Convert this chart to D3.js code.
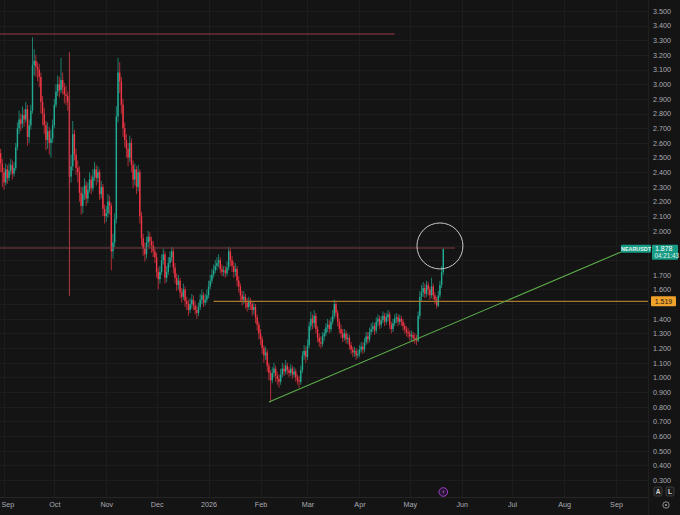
<!DOCTYPE html>
<html><head><meta charset="utf-8">
<script src="https://cdn.jsdelivr.net/npm/d3@7"></script>
<style>html,body{margin:0;padding:0;background:#141414;overflow:hidden}svg{display:block}</style>
</head><body><svg id="c" width="680" height="515"></svg>
<script>
// ---------- DATA (NEARUSDT, daily) ----------
const startDate = "2025-08-29";
const firstOpen = 2.50;
const closes = [
2.53,2.46,2.40,2.33,2.42,2.36,2.41,2.45,2.39,2.43,
2.57,2.70,2.76,2.73,2.79,2.76,2.83,2.64,2.72,2.82,
3.13,3.16,3.12,3.10,3.05,2.88,2.80,2.72,2.62,2.68,
2.60,2.63,2.72,2.86,2.95,3.00,2.96,3.03,2.98,2.93,
2.92,2.88,2.37,2.44,2.66,2.52,2.43,2.40,2.26,2.17,
2.25,2.31,2.22,2.28,2.35,2.29,2.37,2.42,2.36,2.40,
2.25,2.30,2.15,2.10,2.12,2.20,2.17,1.86,1.92,2.08,
2.78,3.08,3.02,2.86,2.70,2.62,2.56,2.50,2.60,2.45,
2.35,2.42,2.30,2.40,2.10,1.95,1.88,1.84,1.92,1.96,
1.93,1.90,1.86,1.82,1.72,1.67,1.72,1.80,1.84,1.68,
1.72,1.78,1.82,1.86,1.75,1.68,1.63,1.66,1.58,1.55,
1.60,1.52,1.50,1.46,1.50,1.53,1.49,1.46,1.44,1.48,
1.53,1.56,1.51,1.53,1.56,1.62,1.66,1.70,1.73,1.76,
1.78,1.80,1.74,1.72,1.73,1.71,1.75,1.86,1.80,1.76,
1.72,1.74,1.66,1.62,1.56,1.53,1.55,1.51,1.48,1.52,
1.50,1.46,1.48,1.41,1.36,1.30,1.26,1.20,1.15,1.17,
1.08,1.03,0.98,1.03,1.06,1.01,0.99,0.97,1.02,1.06,
1.04,1.08,1.05,1.03,1.06,1.02,1.04,1.00,0.98,0.97,
1.05,1.15,1.18,1.14,1.22,1.35,1.40,1.37,1.42,1.33,
1.27,1.24,1.23,1.28,1.30,1.34,1.36,1.33,1.38,1.42,
1.50,1.44,1.38,1.33,1.30,1.27,1.30,1.26,1.27,1.22,
1.19,1.17,1.18,1.15,1.16,1.19,1.21,1.19,1.24,1.28,
1.26,1.31,1.33,1.35,1.32,1.38,1.40,1.36,1.39,1.42,
1.38,1.41,1.43,1.36,1.33,1.37,1.40,1.41,1.38,1.40,
1.38,1.35,1.33,1.31,1.30,1.28,1.29,1.27,1.26,1.25,
1.42,1.55,1.58,1.61,1.57,1.63,1.60,1.56,1.62,1.56,
1.53,1.49,1.56,1.63,1.72,1.878];
const highs = [
2.58,2.56,2.49,2.43,2.46,2.45,2.46,2.49,2.48,2.47,
2.60,2.74,2.82,2.80,2.85,2.83,2.88,2.86,2.76,2.86,
3.32,3.24,3.20,3.15,3.14,3.08,2.92,2.84,2.75,2.74,
2.71,2.69,2.76,2.90,3.00,3.06,3.05,3.18,3.08,3.01,
2.99,2.95,2.90,2.52,2.75,2.69,2.56,2.48,2.44,2.30,
2.30,2.36,2.34,2.33,2.40,2.38,2.42,2.47,2.45,2.44,
2.42,2.34,2.32,2.18,2.17,2.25,2.24,2.19,1.98,2.12,
2.85,3.18,3.15,3.05,2.90,2.74,2.66,2.60,2.65,2.63,
2.48,2.46,2.44,2.45,2.42,2.13,1.98,1.92,1.96,2.00,
1.99,1.96,1.93,1.89,1.85,1.75,1.76,1.84,1.88,1.86,
1.76,1.82,1.86,1.89,1.88,1.78,1.71,1.70,1.68,1.61,
1.64,1.62,1.55,1.53,1.54,1.57,1.56,1.52,1.49,1.51,
1.57,1.60,1.58,1.57,1.60,1.66,1.70,1.74,1.77,1.80,
1.82,1.84,1.82,1.77,1.76,1.76,1.79,1.89,1.88,1.83,
1.79,1.78,1.76,1.69,1.64,1.59,1.59,1.57,1.54,1.55,
1.54,1.52,1.51,1.50,1.43,1.38,1.33,1.28,1.22,1.21,
1.19,1.10,1.05,1.07,1.10,1.08,1.04,1.02,1.06,1.10,
1.09,1.12,1.10,1.07,1.09,1.08,1.07,1.06,1.02,1.01,
1.08,1.18,1.22,1.21,1.26,1.38,1.45,1.43,1.46,1.44,
1.35,1.30,1.28,1.31,1.33,1.37,1.40,1.39,1.41,1.46,
1.53,1.52,1.46,1.40,1.36,1.33,1.33,1.32,1.30,1.29,
1.24,1.21,1.21,1.20,1.19,1.22,1.24,1.24,1.27,1.31,
1.31,1.34,1.37,1.38,1.37,1.41,1.43,1.42,1.42,1.45,
1.44,1.44,1.46,1.45,1.38,1.40,1.43,1.44,1.43,1.43,
1.42,1.40,1.37,1.35,1.34,1.32,1.32,1.31,1.30,1.29,
1.45,1.59,1.63,1.65,1.64,1.66,1.65,1.62,1.68,1.64,
1.58,1.55,1.59,1.66,1.76,1.878];
const lows = [
2.44,2.40,2.30,2.28,2.31,2.32,2.34,2.38,2.35,2.37,
2.41,2.55,2.66,2.68,2.70,2.71,2.74,2.58,2.60,2.69,
2.80,3.06,3.05,3.02,2.98,2.80,2.72,2.66,2.55,2.56,
2.52,2.50,2.60,2.70,2.84,2.92,2.91,2.94,2.93,2.87,
2.86,2.82,2.30,2.33,2.41,2.48,2.38,2.33,2.20,2.11,
2.12,2.21,2.17,2.19,2.26,2.25,2.27,2.34,2.31,2.33,
2.21,2.22,2.10,2.05,2.06,2.09,2.11,1.73,1.81,1.89,
2.05,2.74,2.94,2.80,2.64,2.57,2.50,2.44,2.47,2.40,
2.29,2.31,2.25,2.27,2.05,1.90,1.83,1.79,1.81,1.89,
1.88,1.85,1.82,1.78,1.68,1.60,1.64,1.70,1.77,1.64,
1.65,1.70,1.75,1.79,1.71,1.64,1.59,1.60,1.54,1.51,
1.53,1.48,1.46,1.42,1.44,1.47,1.46,1.43,1.40,1.42,
1.46,1.50,1.48,1.49,1.51,1.54,1.60,1.64,1.68,1.71,
1.73,1.75,1.71,1.69,1.69,1.68,1.69,1.73,1.76,1.72,
1.68,1.69,1.62,1.58,1.52,1.49,1.50,1.47,1.45,1.46,
1.46,1.42,1.43,1.37,1.32,1.26,1.22,1.16,1.10,1.12,
1.04,0.98,0.83,0.96,1.00,0.97,0.95,0.93,0.95,1.00,
1.01,1.02,1.02,1.00,1.01,0.99,1.00,0.97,0.95,0.93,
0.95,1.03,1.12,1.10,1.12,1.20,1.32,1.33,1.34,1.30,
1.24,1.21,1.20,1.21,1.25,1.28,1.31,1.30,1.31,1.36,
1.40,1.41,1.35,1.30,1.27,1.24,1.25,1.23,1.23,1.19,
1.16,1.14,1.14,1.12,1.13,1.14,1.17,1.16,1.17,1.22,
1.23,1.24,1.29,1.31,1.29,1.30,1.35,1.33,1.34,1.37,
1.35,1.36,1.38,1.33,1.30,1.31,1.35,1.37,1.35,1.36,
1.35,1.32,1.30,1.28,1.27,1.25,1.25,1.24,1.23,1.22,
1.24,1.40,1.52,1.55,1.54,1.55,1.56,1.53,1.54,1.53,
1.50,1.47,1.48,1.54,1.61,1.70];

const yTickValues = [3.5,3.4,3.3,3.2,3.1,3.0,2.9,2.8,2.7,2.6,2.5,2.4,2.3,2.2,2.1,2.0,1.7,1.6,1.4,1.3,1.2,1.1,1.0,0.9,0.8,0.7,0.6,0.5,0.4,0.3];
const gridValues = [3.5,3.4,3.3,3.2,3.1,3.0,2.9,2.8,2.7,2.6,2.5,2.4,2.3,2.2,2.1,2.0,1.9,1.8,1.7,1.6,1.5,1.4,1.3,1.2,1.1,1.0,0.9,0.8,0.7,0.6,0.5,0.4,0.3];
const monthTicks = ["2025-09-01","2025-10-01","2025-11-01","2025-12-01","2026-01-01","2026-02-01","2026-03-01","2026-04-01","2026-05-01","2026-06-01","2026-07-01","2026-08-01","2026-09-01"];
const monthLabels = ["Sep","Oct","Nov","Dec","2026","Feb","Mar","Apr","May","Jun","Jul","Aug","Sep"];

// drawings (values / dates only)
const topResistance = {value: 3.343, start: "2025-08-27", end: "2026-04-22"};
const midResistance = {value: 1.883, start: "2025-08-27", end: "2026-05-28"};
const supportLevel  = {value: 1.519, start: "2026-01-04"};
const trendPoints   = [{date: "2026-02-06", value: 0.833}, {date: "2026-09-04", value: 1.856}];
const crashMarker   = {date: "2025-10-10", top: 3.22, bottom: 1.556};
const circleMarker  = {date: "2026-05-19", value: 1.897};
const symbolName = "NEARUSDT";
const lastPrice = 1.878;
const countdown = "04:21:43";

// ---------- CHART ----------
const W = 680, H = 515;
const plotRight = 648, timeAxisY = 497;
const parse = d3.timeParse("%Y-%m-%d");
const x = d3.scaleTime().domain([parse("2025-09-01"), parse("2026-09-01")]).range([4, 616]);
const y = d3.scaleLinear().domain([0.3, 3.5]).range([480, 11]);

const svg = d3.select("#c");
svg.append("rect").attr("width", W).attr("height", H).attr("fill", "#141414");

const plot = svg.append("g");
plot.append("clipPath").attr("id","clip").append("rect").attr("x",0).attr("y",0).attr("width",plotRight).attr("height",timeAxisY);

// grid
const grid = plot.append("g").attr("clip-path","url(#clip)");
grid.selectAll("line.h").data(gridValues).join("line").attr("class","h")
  .attr("x1",0).attr("x2",plotRight).attr("y1",d=>Math.round(y(d))+0.5).attr("y2",d=>Math.round(y(d))+0.5)
  .attr("stroke","#1d1d1d").attr("stroke-width",1);
grid.selectAll("line.v").data(monthTicks.map(parse)).join("line").attr("class","v")
  .attr("y1",0).attr("y2",timeAxisY).attr("x1",d=>Math.round(x(d))+0.5).attr("x2",d=>Math.round(x(d))+0.5)
  .attr("stroke","#1d1d1d").attr("stroke-width",1);

// candles
const start = parse(startDate);
const candles = closes.map((c,i)=>{
  const o = i===0 ? firstOpen : closes[i-1];
  return {date: d3.timeDay.offset(start,i), o, c, h: Math.max(highs[i],o,c), l: Math.min(lows[i],o,c)};
});
const up = "#22ab94", dn = "#f23645";
const cg = plot.append("g").attr("clip-path","url(#clip)");
cg.selectAll("line.w").data(candles).join("line").attr("class","w")
  .attr("x1",d=>x(d.date)).attr("x2",d=>x(d.date))
  .attr("y1",d=>y(d.h)).attr("y2",d=>y(d.l))
  .attr("stroke",d=>d.c>=d.o?up:dn).attr("stroke-width",0.7);
cg.selectAll("rect.b").data(candles).join("rect").attr("class","b")
  .attr("x",d=>x(d.date)-0.7).attr("width",1.4)
  .attr("y",d=>y(Math.max(d.o,d.c)))
  .attr("height",d=>Math.max(0.8, Math.abs(y(d.o)-y(d.c))))
  .attr("fill",d=>d.c>=d.o?up:dn);

// drawings
const dg = plot.append("g").attr("clip-path","url(#clip)");
dg.append("line").attr("x1",x(parse(topResistance.start))).attr("x2",x(parse(topResistance.end)))
  .attr("y1",y(topResistance.value)).attr("y2",y(topResistance.value))
  .attr("stroke","#9b3a44").attr("stroke-width",1);
dg.append("line").attr("x1",x(parse(midResistance.start))).attr("x2",x(parse(midResistance.end)))
  .attr("y1",y(midResistance.value)).attr("y2",y(midResistance.value))
  .attr("stroke","#7a3a3e").attr("stroke-width",1.2);
dg.append("line").attr("x1",x(parse(supportLevel.start))).attr("x2",plotRight)
  .attr("y1",y(supportLevel.value)).attr("y2",y(supportLevel.value))
  .attr("stroke","#a8782e").attr("stroke-width",1.2);
dg.append("line").attr("x1",x(parse(crashMarker.date))).attr("x2",x(parse(crashMarker.date)))
  .attr("y1",y(crashMarker.top)).attr("y2",y(crashMarker.bottom))
  .attr("stroke","#b23a44").attr("stroke-width",1);
dg.append("line").attr("x1",x(parse(trendPoints[0].date))).attr("x2",x(parse(trendPoints[1].date)))
  .attr("y1",y(trendPoints[0].value)).attr("y2",y(trendPoints[1].value))
  .attr("stroke","#5cae4a").attr("stroke-width",1.1);
dg.append("circle").attr("cx",x(parse(circleMarker.date))).attr("cy",y(circleMarker.value)).attr("r",23)
  .attr("fill","none").attr("stroke","#c8c8c8").attr("stroke-width",1);

// axes borders
svg.append("line").attr("x1",0).attr("x2",plotRight).attr("y1",timeAxisY+0.5).attr("y2",timeAxisY+0.5).attr("stroke","#262626");
svg.append("line").attr("x1",plotRight+0.5).attr("x2",plotRight+0.5).attr("y1",0).attr("y2",H).attr("stroke","#1f1f1f");

const font = "'Liberation Sans', Arial, sans-serif";
// y axis
const yAxis = d3.axisRight(y).tickValues(yTickValues).tickFormat(d3.format(".3f")).tickSize(0).tickPadding(5);
const yg = svg.append("g").attr("transform",`translate(${plotRight},0)`).call(yAxis);
yg.select(".domain").remove();
yg.selectAll("text").attr("fill","#a9abb2").attr("font-size","7.2px").attr("font-family",font);

// x axis
const xAxis = d3.axisBottom(x).tickValues(monthTicks.map(parse)).tickFormat((d,i)=>monthLabels[i]).tickSize(0).tickPadding(5);
const xg = svg.append("g").attr("transform",`translate(0,${timeAxisY})`).call(xAxis);
xg.select(".domain").remove();
xg.selectAll("text").attr("fill","#a9abb2").attr("font-size","7.2px").attr("font-family",font);
xg.selectAll("text").filter((d,i)=>i===0).attr("text-anchor","start").attr("dx","-3");

// support price label
const sy = y(supportLevel.value);
svg.append("rect").attr("x",plotRight+3).attr("y",sy-5).attr("width",25).attr("height",10).attr("rx",1).attr("fill","#f0a22a");
svg.append("text").attr("x",plotRight+15.5).attr("y",sy+2.6).attr("text-anchor","middle")
  .attr("font-size","7px").attr("font-family",font).attr("fill","#1a1a1a").text(supportLevel.value.toFixed(3));

// last price label
const ly = y(lastPrice);
svg.append("rect").attr("x",621).attr("y",ly-4).attr("width",30).attr("height",8).attr("rx",1).attr("fill","#179b84");
svg.append("text").attr("x",636).attr("y",ly+2).attr("text-anchor","middle")
  .attr("font-size","5.4px").attr("font-weight","bold").attr("font-family",font).attr("fill","#e8f5f2").text(symbolName);
svg.append("rect").attr("x",652).attr("y",ly-4).attr("width",26).attr("height",15).attr("rx",1).attr("fill","#179b84");
svg.append("text").attr("x",655).attr("y",ly+2.4).attr("font-size","7px").attr("font-family",font).attr("fill","#ffffff").text(lastPrice.toFixed(3));
svg.append("text").attr("x",654.5).attr("y",ly+9.5).attr("font-size","6.3px").attr("font-family",font).attr("fill","#e0f2ee").text(countdown);

// event icon
const ex = x(parse("2026-05-21"));
svg.append("circle").attr("cx",ex).attr("cy",492).attr("r",4.3).attr("fill","#2a1436").attr("stroke","#9b3fc2").attr("stroke-width",1);
svg.append("path").attr("d",`M${ex+0.8},${489.5} L${ex-1},${492.3} L${ex+0.4},${492.3} L${ex-0.8},${494.7} L${ex+1.2},${491.6} L${ex-0.2},${491.6} Z`).attr("fill","#c27ae0");

// A / L buttons
[["A",654],["L",666]].forEach(([t,bx])=>{
  svg.append("rect").attr("x",bx).attr("y",487).attr("width",8).attr("height",9).attr("rx",1.5).attr("fill","#1c1c1c").attr("stroke","#4a4a4a").attr("stroke-width",0.7);
  svg.append("text").attr("x",bx+4).attr("y",494).attr("text-anchor","middle").attr("font-size","6.5px").attr("font-weight","bold").attr("font-family",font).attr("fill","#d6d6d6").text(t);
});
// gear icon
svg.append("circle").attr("cx",666).attr("cy",505).attr("r",3.2).attr("fill","none").attr("stroke","#9a9a9a").attr("stroke-width",0.9);
svg.append("circle").attr("cx",666).attr("cy",505).attr("r",1.1).attr("fill","#9a9a9a");
</script></body></html>
